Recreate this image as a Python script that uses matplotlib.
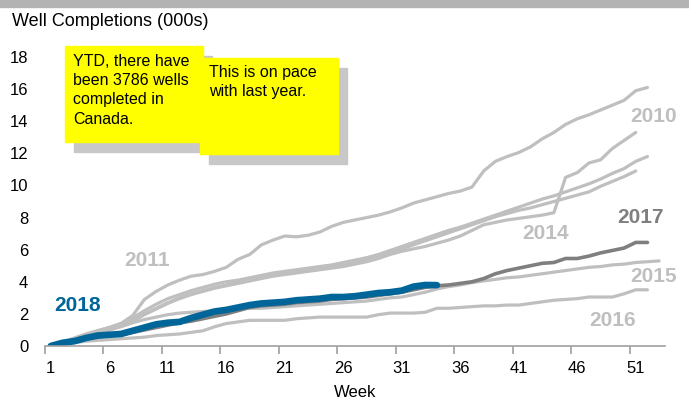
import matplotlib

matplotlib.use("Agg")
import matplotlib.pyplot as plt
from matplotlib.patches import Rectangle
import numpy as np

plt.rcParams["font.family"] = ["Liberation Sans", "DejaVu Sans"]

# Накопленные завершения скважин (тыс.) по неделям
y2010 = [0.0, 0.25, 0.5, 0.75, 0.95, 1.15, 1.4, 1.9, 2.9, 3.4, 3.8, 4.1, 4.35, 4.45,
         4.65, 4.9, 5.4, 5.7, 6.3, 6.6, 6.85, 6.8, 6.9, 7.1, 7.45, 7.7, 7.85, 8.0,
         8.15, 8.35, 8.6, 8.9, 9.1, 9.3, 9.5, 9.65, 9.9, 10.9, 11.5, 11.8, 12.05,
         12.4, 12.9, 13.3, 13.8, 14.15, 14.4, 14.7, 15.0, 15.3, 15.9, 16.1]
y2011 = [0.0, 0.2, 0.45, 0.7, 0.95, 1.15, 1.4, 1.75, 2.2, 2.6, 2.95, 3.2, 3.45, 3.65,
         3.85, 4.0, 4.1, 4.25, 4.4, 4.55, 4.65, 4.75, 4.85, 4.95, 5.05, 5.2, 5.35,
         5.5, 5.7, 5.95, 6.2, 6.45, 6.7, 6.95, 7.2, 7.4, 7.65, 7.9, 8.15, 8.4, 8.65,
         8.9, 9.15, 9.35, 9.6, 9.85, 10.1, 10.4, 10.75, 11.05, 11.5, 11.8]
y2012 = [0.0, 0.2, 0.4, 0.6, 0.85, 1.05, 1.3, 1.6, 2.0, 2.35, 2.7, 3.0, 3.25, 3.45,
         3.65, 3.8, 3.95, 4.1, 4.25, 4.4, 4.5, 4.6, 4.7, 4.8, 4.9, 5.05, 5.2, 5.35,
         5.55, 5.8, 6.05, 6.3, 6.55, 6.8, 7.05, 7.3, 7.55, 7.8, 8.05, 8.25, 8.45,
         8.6, 8.8, 9.0, 9.2, 9.4, 9.6, 9.95, 10.25, 10.55, 10.9]
y2014 = [0.0, 0.15, 0.35, 0.55, 0.8, 1.0, 1.25, 1.55, 1.95, 2.3, 2.65, 2.95, 3.2, 3.4,
         3.6, 3.75, 3.9, 4.05, 4.2, 4.35, 4.45, 4.55, 4.65, 4.75, 4.85, 4.95, 5.1,
         5.25, 5.45, 5.7, 5.9, 6.05, 6.2, 6.4, 6.6, 6.85, 7.2, 7.55, 7.7, 7.85, 7.95,
         8.05, 8.15, 8.3, 10.5, 10.8, 11.4, 11.6, 12.3, 12.8, 13.3]
y2015 = [0.0, 0.2, 0.4, 0.6, 0.8, 1.0, 1.2, 1.45, 1.65, 1.8, 1.95, 2.05, 2.1, 2.15,
         2.2, 2.25, 2.3, 2.35, 2.35, 2.4, 2.45, 2.5, 2.55, 2.6, 2.65, 2.7, 2.75, 2.8,
         2.9, 3.0, 3.05, 3.2, 3.35, 3.55, 3.7, 3.8, 3.95, 4.05, 4.15, 4.25, 4.3, 4.4,
         4.5, 4.6, 4.7, 4.8, 4.9, 4.95, 5.05, 5.1, 5.2, 5.25, 5.3]
y2016 = [0.0, 0.1, 0.2, 0.3, 0.35, 0.4, 0.45, 0.5, 0.55, 0.65, 0.7, 0.75, 0.85, 0.95,
         1.2, 1.4, 1.5, 1.6, 1.6, 1.6, 1.6, 1.7, 1.75, 1.8, 1.8, 1.8, 1.8, 1.8, 1.95,
         2.05, 2.05, 2.05, 2.1, 2.35, 2.35, 2.4, 2.45, 2.5, 2.5, 2.55, 2.55, 2.65,
         2.75, 2.85, 2.9, 2.95, 3.05, 3.05, 3.05, 3.25, 3.5, 3.5]
y2017 = [0.0, 0.15, 0.3, 0.45, 0.55, 0.65, 0.7, 0.85, 1.0, 1.15, 1.3, 1.45, 1.55, 1.7,
         1.85, 2.0, 2.2, 2.4, 2.5, 2.55, 2.6, 2.7, 2.75, 2.8, 2.9, 2.95, 3.0, 3.05,
         3.15, 3.25, 3.35, 3.5, 3.65, 3.75, 3.8, 3.9, 4.0, 4.2, 4.5, 4.7, 4.85, 5.0,
         5.15, 5.2, 5.45, 5.45, 5.6, 5.8, 5.95, 6.1, 6.45, 6.45]
y2018 = [0.0, 0.2, 0.3, 0.5, 0.65, 0.7, 0.75, 0.95, 1.15, 1.35, 1.45, 1.5, 1.75, 1.95,
         2.15, 2.25, 2.4, 2.55, 2.65, 2.7, 2.75, 2.85, 2.9, 2.95, 3.05, 3.05, 3.1,
         3.2, 3.3, 3.35, 3.45, 3.7, 3.8, 3.79]

grey_years = [y2010, y2011, y2012, y2014, y2015, y2016]

# Подписи годов: (текст, неделя, значение, цвет)
year_labels = [
    ("2010", 52.5, 14.3, "#BFBFBF"),
    ("2011", 9.2, 5.3, "#BFBFBF"),
    ("2014", 43.3, 7.0, "#BFBFBF"),
    ("2015", 52.5, 4.3, "#BFBFBF"),
    ("2016", 49.0, 1.6, "#BFBFBF"),
    ("2017", 51.4, 8.0, "#7F7F7F"),
    ("2018", 3.25, 2.55, "#006699"),
]

W, H = 689, 404
fig = plt.figure(figsize=(W / 100, H / 100), dpi=100)
ax = fig.add_axes([45 / W, 1 - 346 / H, 620 / W, 289 / H])

for ys in grey_years:
    ax.plot(np.arange(1, len(ys) + 1), ys, color="#BFBFBF", lw=2.3,
            solid_capstyle="round")
ax.plot(np.arange(1, len(y2017) + 1), y2017, color="#7F7F7F", lw=2.6,
        solid_capstyle="round")
ax.plot(np.arange(1, len(y2018) + 1), y2018, color="#006699", lw=4.8,
        solid_capstyle="round")

for txt, wx, wy, c in year_labels:
    ax.text(wx, wy, txt, color=c, fontsize=15, fontweight="bold",
            ha="center", va="center")

ax.set_xlim(0.5, 53.5)
ax.set_ylim(0, 18)
ax.set_yticks(np.arange(0, 19, 2))
ax.set_xticks(np.arange(1, 52, 5))
ax.set_xticks(np.arange(0.5, 51, 5), minor=True)
ax.tick_params(axis="x", which="major", length=0, pad=11, labelsize=12)
ax.tick_params(axis="x", which="minor", length=6, width=1.2, color="#A0A0A0")
ax.tick_params(axis="y", length=0, pad=12, labelsize=12)

for s in ["top", "right", "left"]:
    ax.spines[s].set_visible(False)
ax.spines["bottom"].set_color("#A0A0A0")
ax.spines["bottom"].set_linewidth(1.2)

ax.set_xlabel("Week", fontsize=12, labelpad=6)
fig.text(12 / W, 1 - 21 / H, "Well Completions (000s)", fontsize=13,
         ha="left", va="center")

# Серая полоса сверху
fig.patches.append(Rectangle((0, 1 - 7 / H), 1, 7 / H, transform=fig.transFigure,
                             color="#B3B3B3", zorder=1))


def note_box(x0, y0, x1, y1, text, tx, ty):
    # тень, затем жёлтый прямоугольник, затем текст (в пикселях)
    fig.patches.append(Rectangle(((x0 + 9) / W, 1 - (y1 + 10) / H), (x1 - x0) / W,
                                 (y1 - y0) / H, transform=fig.transFigure,
                                 color="#C8C8C8", zorder=5))
    fig.patches.append(Rectangle((x0 / W, 1 - y1 / H), (x1 - x0) / W, (y1 - y0) / H,
                                 transform=fig.transFigure, color="#FFFF00", zorder=6))
    fig.text(tx / W, 1 - ty / H, text, fontsize=11.5, ha="left", va="top",
             linespacing=1.35, zorder=7)


note_box(65, 46, 203, 142, "YTD, there have\nbeen 3786 wells\ncompleted in\nCanada.", 73, 54)
note_box(200, 58, 338, 154, "This is on pace\nwith last year.", 209, 65)

fig.savefig("out.png", dpi=100)
